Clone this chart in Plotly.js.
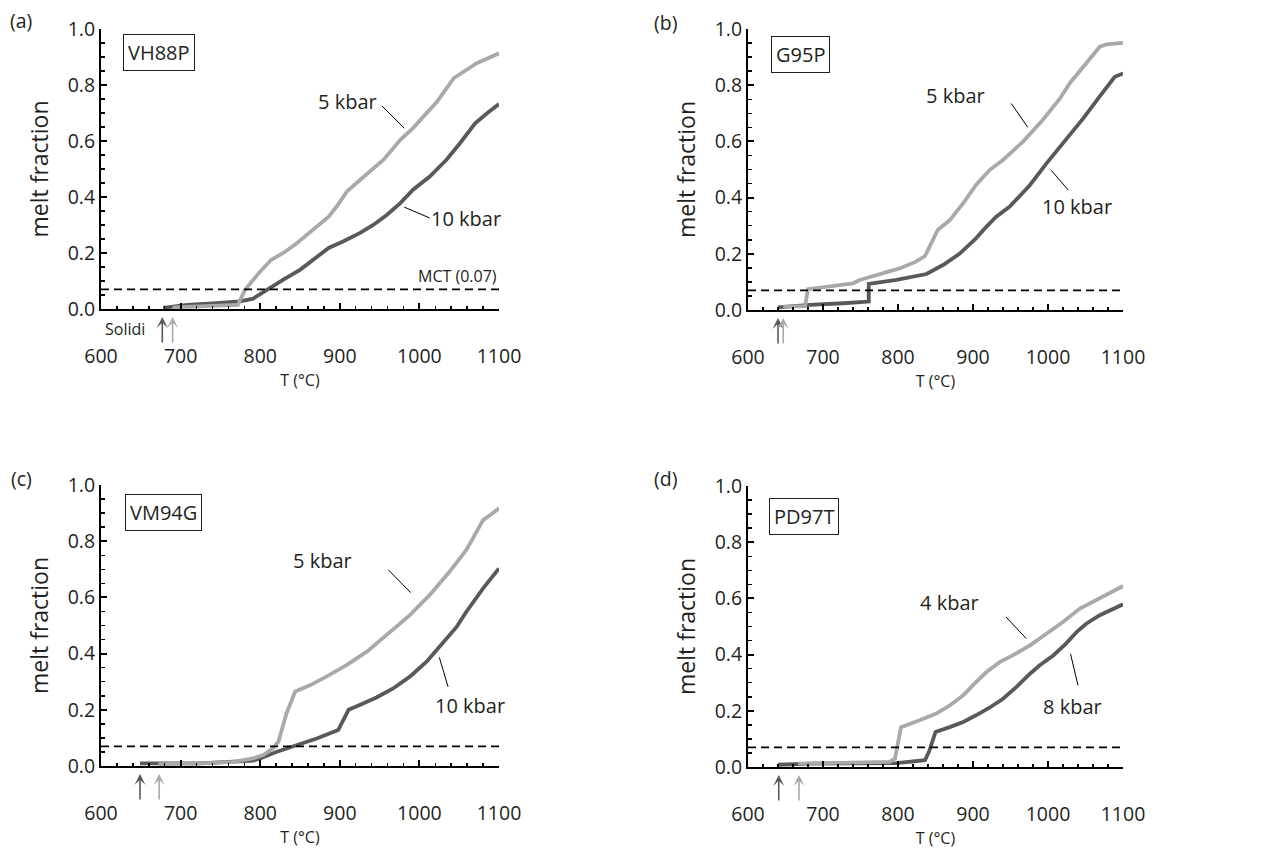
<!DOCTYPE html>
<html><head><meta charset="utf-8">
<script src="https://cdn.plot.ly/plotly-3.0.1.min.js"></script>
<style>html,body{margin:0;padding:0;background:#fff;}#chart{width:1267px;height:855px;}</style>
</head><body><div id="chart"></div>
<script>
// ---------------- DATA ----------------
const MCT = 0.07;
const panelLetters = ['(a)', '(b)', '(c)', '(d)'];
const samples = ['VH88P', 'G95P', 'VM94G', 'PD97T'];
const lowPLabels = ['5 kbar', '5 kbar', '5 kbar', '4 kbar'];
const highPLabels = ['10 kbar', '10 kbar', '10 kbar', '8 kbar'];

// (a) VH88P
const aT_low = [690, 700, 740, 772, 781, 800, 814, 829, 846, 867, 886, 896, 909, 921, 938, 955, 976, 992, 1005, 1022, 1043, 1072, 1100];
const aF_low = [0.005, 0.007, 0.011, 0.015, 0.069, 0.134, 0.176, 0.2, 0.235, 0.283, 0.33, 0.366, 0.42, 0.45, 0.49, 0.533, 0.604, 0.646, 0.687, 0.74, 0.824, 0.878, 0.913];
const aT_high = [678, 708, 740, 775, 791, 808, 829, 850, 867, 886, 904, 925, 942, 959, 976, 992, 1013, 1034, 1051, 1070, 1085, 1100];
const aF_high = [0.004, 0.015, 0.02, 0.027, 0.037, 0.069, 0.105, 0.14, 0.176, 0.218, 0.241, 0.271, 0.30, 0.336, 0.378, 0.426, 0.473, 0.533, 0.592, 0.663, 0.699, 0.732];
// (b) G95P
const bT_low = [647, 676, 680, 709, 740, 749, 780, 802, 824, 836, 853, 869, 887, 904, 922, 940, 967, 993, 1016, 1029, 1051, 1069, 1078, 1100];
const bF_low = [0.012, 0.014, 0.074, 0.083, 0.095, 0.107, 0.13, 0.148, 0.172, 0.192, 0.285, 0.32, 0.38, 0.445, 0.498, 0.534, 0.6, 0.676, 0.753, 0.807, 0.878, 0.937, 0.945, 0.951];
const bT_high = [640, 682, 727, 761, 761, 798, 838, 860, 882, 904, 918, 931, 949, 976, 998, 1020, 1047, 1069, 1089, 1100];
const bF_high = [0.009, 0.018, 0.024, 0.03, 0.093, 0.107, 0.128, 0.16, 0.2, 0.255, 0.297, 0.332, 0.368, 0.445, 0.522, 0.593, 0.682, 0.76, 0.83, 0.842];
// (c) VM94G
const cT_low = [672, 724, 766, 791, 804, 816, 823, 833, 844, 863, 883, 909, 934, 959, 988, 1013, 1038, 1059, 1080, 1089, 1100];
const cF_low = [0.007, 0.0095, 0.015, 0.027, 0.039, 0.063, 0.087, 0.187, 0.265, 0.288, 0.318, 0.36, 0.407, 0.466, 0.537, 0.609, 0.692, 0.769, 0.875, 0.893, 0.917];
const cT_high = [649, 724, 791, 800, 821, 846, 871, 898, 911, 925, 946, 967, 988, 1009, 1026, 1047, 1059, 1080, 1100];
const cF_high = [0.0095, 0.009, 0.019, 0.027, 0.051, 0.075, 0.098, 0.128, 0.2, 0.217, 0.244, 0.276, 0.318, 0.371, 0.425, 0.496, 0.549, 0.632, 0.703];
// (d) PD97T
const dT_low = [667, 789, 796, 804, 829, 851, 869, 887, 904, 918, 936, 953, 976, 998, 1020, 1042, 1064, 1100];
const dF_low = [0.012, 0.018, 0.03, 0.142, 0.166, 0.19, 0.219, 0.255, 0.302, 0.338, 0.374, 0.397, 0.433, 0.474, 0.516, 0.563, 0.593, 0.644];
const dT_high = [640, 687, 798, 836, 842, 850, 869, 887, 904, 922, 940, 958, 976, 989, 1007, 1024, 1038, 1051, 1069, 1100];
const dF_high = [0.008, 0.012, 0.014, 0.024, 0.059, 0.125, 0.142, 0.16, 0.184, 0.211, 0.243, 0.285, 0.332, 0.362, 0.397, 0.439, 0.48, 0.51, 0.54, 0.579];

// solidus temperatures [high P (dark), low P (light)]
const solidusHigh = [677, 640, 649, 641];
const solidusLow = [690, 647, 673, 668];

// ---------------- STYLE / LAYOUT ----------------
const W = 1267, H = 855;
const FONT = '"Open Sans", "Noto Sans", sans-serif';
const TXT = '#231f20';
const LIGHT = '#a7a9ac', DARK = '#58595b';

const series = [
  [aT_low, aF_low, aT_high, aF_high],
  [bT_low, bF_low, bT_high, bF_high],
  [cT_low, cF_low, cT_high, cF_high],
  [dT_low, dF_low, dT_high, dF_high]
];
const xDomains = [[101/W, 499/W], [748/W, 1123/W], [101/W, 499/W], [748/W, 1123/W]];
const yDomains = [[1-309/H, 1-29/H], [1-310/H, 1-29/H], [1-766/H, 1-485/H], [1-767/H, 1-486/H]];
const letterPos = [[21, 20], [665, 22], [21, 478], [665, 478]];
// label placements (data coords): box, low label, high label, leader lines
const boxPos = [[673, 0.915], [670, 0.909], [678, 0.902], [674, 0.891]];
const lowLabelPos = [[910, 0.74], [876, 0.765], [878, 0.733], [869, 0.584]];
const highLabelPos = [[1058, 0.325], [1039, 0.368], [1063, 0.217], [1032, 0.214]];
const lowLeader = [[953, 0.725, 981, 0.646], [951, 0.735, 973, 0.65], [961, 0.698, 989, 0.617], [944, 0.534, 971, 0.457]];
const highLeader = [[981, 0.364, 1013, 0.325], [1004, 0.498, 1027, 0.427], [1025, 0.387, 1036, 0.282], [1030, 0.403, 1040, 0.29]];

const traces = [];
const layout = {
  width: W, height: H,
  margin: {l: 0, r: 0, t: 0, b: 0},
  paper_bgcolor: '#fff', plot_bgcolor: 'rgba(0,0,0,0)',
  font: {family: FONT, color: TXT},
  showlegend: false,
  annotations: [], shapes: []
};

for (let i = 0; i < 4; i++) {
  const n = i === 0 ? '' : String(i + 1);
  const xa = 'x' + n, ya = 'y' + n;
  const [Tl, Fl, Th, Fh] = series[i];
  traces.push({x: Th, y: Fh, xaxis: xa, yaxis: ya, mode: 'lines',
    line: {color: DARK, width: 3.8}, hoverinfo: 'skip', name: highPLabels[i]});
  traces.push({x: Tl, y: Fl, xaxis: xa, yaxis: ya, mode: 'lines',
    line: {color: LIGHT, width: 3.8}, hoverinfo: 'skip', name: lowPLabels[i]});

  layout['xaxis' + n] = {
    domain: xDomains[i], anchor: ya, range: [600, 1100], tick0: 600, dtick: 100,
    ticks: 'inside', ticklen: 6, tickwidth: 2, tickcolor: '#000',
    minor: {dtick: 20, ticks: 'inside', ticklen: 3.5, tickwidth: 1.5, tickcolor: '#000', showgrid: false},
    showline: true, linewidth: 2, linecolor: '#000', showgrid: false, zeroline: false,
    tickfont: {size: 19.5, color: TXT, family: FONT}, ticklabelstandoff: 29,
    title: {text: 'T (°C)', font: {size: 16, color: TXT, family: FONT}, standoff: 6},
    automargin: false, fixedrange: true
  };
  layout['yaxis' + n] = {
    domain: yDomains[i], anchor: xa, range: [0, 1], tick0: 0, dtick: 0.2, tickformat: '.1f',
    ticks: 'inside', ticklen: 6, tickwidth: 2, tickcolor: '#000',
    minor: {dtick: 0.05, ticks: 'inside', ticklen: 3.5, tickwidth: 1.5, tickcolor: '#000', showgrid: false},
    showline: true, linewidth: 2, linecolor: '#000', showgrid: false, zeroline: false,
    tickfont: {size: 19.5, color: TXT, family: FONT},
    title: {text: 'melt fraction', font: {size: 23, color: TXT, family: FONT}, standoff: 13},
    automargin: false, fixedrange: true
  };

  // MCT dashed line
  layout.shapes.push({type: 'line', xref: xa + ' domain', yref: ya, x0: 0, x1: 1, y0: MCT, y1: MCT,
    line: {color: '#000', width: 1.6, dash: '8px,5px'}});
  // leader lines
  const L = lowLeader[i], Hh = highLeader[i];
  layout.shapes.push({type: 'line', xref: xa, yref: ya, x0: L[0], y0: L[1], x1: L[2], y1: L[3], line: {color: '#000', width: 1}});
  layout.shapes.push({type: 'line', xref: xa, yref: ya, x0: Hh[0], y0: Hh[1], x1: Hh[2], y1: Hh[3], line: {color: '#000', width: 1}});

  // panel letter
  layout.annotations.push({xref: 'paper', yref: 'paper', x: letterPos[i][0] / W, y: 1 - letterPos[i][1] / H,
    text: panelLetters[i], showarrow: false, font: {size: 19.5, color: TXT}, xanchor: 'center', yanchor: 'middle'});
  // sample box
  layout.annotations.push({xref: xa, yref: ya, x: boxPos[i][0], y: boxPos[i][1], text: samples[i], showarrow: false,
    font: {size: 20, color: TXT}, bordercolor: TXT, borderwidth: 1, borderpad: 4, bgcolor: '#fff'});
  // pressure labels
  layout.annotations.push({xref: xa, yref: ya, x: lowLabelPos[i][0], y: lowLabelPos[i][1], text: lowPLabels[i], showarrow: false, font: {size: 20, color: TXT}});
  layout.annotations.push({xref: xa, yref: ya, x: highLabelPos[i][0], y: highLabelPos[i][1], text: highPLabels[i], showarrow: false, font: {size: 20, color: TXT}});

  // solidus arrows (head just below the x axis)
  const y0 = yDomains[i][0];
  const headY = y0 - 8 / H;
  [[solidusHigh[i], DARK], [solidusLow[i], LIGHT]].forEach(([T, col]) => {
    layout.annotations.push({xref: xa, yref: 'paper', x: T, y: headY, ax: 0, ay: 27, axref: 'pixel', ayref: 'pixel',
      text: '', showarrow: true, arrowhead: 3, arrowsize: 1.15, arrowwidth: 1.6, arrowcolor: col, standoff: 0});
  });
}
// MCT label and "Solidi" in panel (a)
layout.annotations.push({xref: 'x', yref: 'y', x: 1100, y: 0.119, xanchor: 'right', text: 'MCT (0.07)', showarrow: false, font: {size: 16, color: TXT}});
layout.annotations.push({xref: 'x', yref: 'paper', x: 630, y: yDomains[0][0] - 20 / H, text: 'Solidi', showarrow: false, font: {size: 16, color: TXT}});

Plotly.newPlot('chart', traces, layout, {staticPlot: true, displayModeBar: false});
</script>
</body></html>
